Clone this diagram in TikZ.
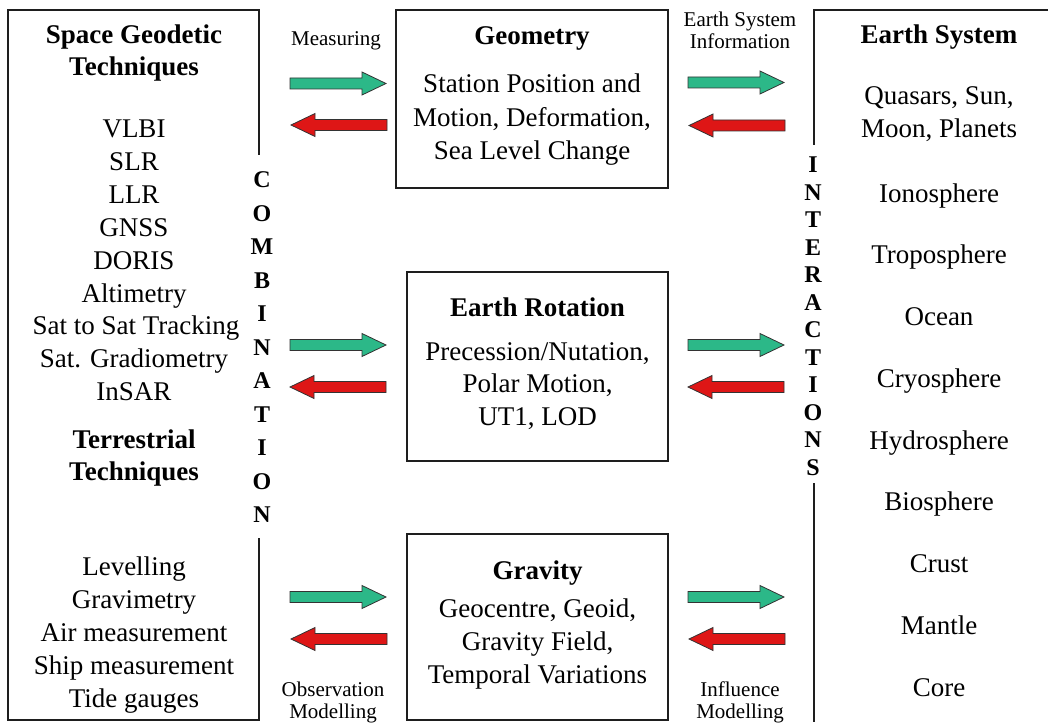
\documentclass[tikz,border=0pt]{standalone}
\usepackage{fontspec}
\setmainfont{Liberation Serif}
\definecolor{arrowgreen}{RGB}{44,184,136}
\definecolor{arrowred}{RGB}{222,22,22}
\definecolor{frameink}{RGB}{30,30,30}
\begin{document}
\begin{tikzpicture}[x=1pt,y=-1pt,
  frame/.style={line width=1.5pt, draw=frameink},
  body/.style={font=\fontsize{27}{32}\selectfont, anchor=base, inner sep=0pt},
  headtext/.style={font=\fontsize{27}{32}\selectfont\bfseries, anchor=base, inner sep=0pt},
  small/.style={font=\fontsize{21}{24}\selectfont, anchor=base, inner sep=0pt},
  vletter/.style={font=\fontsize{24}{26}\selectfont\bfseries, inner sep=0pt},
  arrowline/.style={draw=black!80, line width=0.8pt, line join=miter},
  pics/blockarrow/.style={code={
    \draw[arrowline, fill=#1] (0,-5.5) -- (72,-5.5) -- (72,-11.5) -- (96,0)
      -- (72,11.5) -- (72,5.5) -- (0,5.5) -- cycle;}}
]
\useasboundingbox (0,0) rectangle (1048,722);

% ---------- frames ----------
\coordinate (lTR) at (259,10);   \coordinate (lTL) at (8,10);
\coordinate (lBL) at (8,720);    \coordinate (lBR) at (259,720);
\coordinate (lGapTop) at (259,155); \coordinate (lGapBot) at (259,538);
\draw[frame] (lGapTop) -- (lTR) -- (lTL) -- (lBL) -- (lBR) -- (lGapBot);

\coordinate (rTR) at (1050,10);  \coordinate (rTL) at (814,10);
\coordinate (rGapTop) at (814,145); \coordinate (rGapBot) at (814,483);
\coordinate (rBL) at (814,722);
\draw[frame] (rTR) -- (rTL) -- (rGapTop);
\draw[frame] (rGapBot) -- (rBL);

\draw[frame] (396,10) rectangle (668,188);
\draw[frame] (407,272) rectangle (668,461);
\draw[frame] (407,534) rectangle (668,720);

% ---------- left column: techniques ----------
\node[headtext] (sgt1) at (134,44) {Space Geodetic};
\node[headtext] (sgt2) at (134,76) {Techniques};
\foreach \t [count=\i from 0] in {VLBI,SLR,LLR,GNSS,DORIS,Altimetry}
  \node[body] (sp\i) at (134,{138+32.8*\i}) {\t};
\begin{scope}
  \clip (10,300) rectangle (238,345);
  \node[body] (sp6) at (136,334.8) {Sat to Sat Tracking};
\end{scope}
\node[body] (sp7) at (134,367.6) {Sat. Gradiometry};
\node[body] (sp8) at (134,400.4) {InSAR};
\node[headtext] (tt1) at (134,448) {Terrestrial};
\node[headtext] (tt2) at (134,480) {Techniques};
\foreach \t [count=\i from 0] in {Levelling,Gravimetry,Air measurement,Ship measurement,Tide gauges}
  \node[body] (tr\i) at (134,{575+33*\i}) {\t};

% ---------- vertical words ----------
\foreach \ch [count=\i from 0] in {C,O,M,B,I,N,A,T,I,O,N}
  \node[vletter] (comb\i) at (262,{180+33.5*\i}) {\ch};
\foreach \ch [count=\i from 0] in {I,N,T,E,R,A,C,T,I,O,N,S}
  \node[vletter] (inter\i) at (813,{165+27.5*\i}) {\ch};

% ---------- centre boxes ----------
\node[headtext] (geoH) at (532,45) {Geometry};
\node[body] (geo1) at (532,93) {Station Position and};
\node[body] (geo2) at (532,126.5) {Motion, Deformation,};
\node[body] (geo3) at (532,160) {Sea Level Change};

\node[headtext] (rotH) at (537.5,316) {Earth Rotation};
\node[body] (rot1) at (537.5,360) {Precession/Nutation,};
\node[body] (rot2) at (537.5,392.5) {Polar Motion,};
\node[body] (rot3) at (537.5,425) {UT1, LOD};

\node[headtext] (graH) at (537.5,579) {Gravity};
\node[body] (gra1) at (537.5,617) {Geocentre, Geoid,};
\node[body] (gra2) at (537.5,650) {Gravity Field,};
\node[body] (gra3) at (537.5,683) {Temporal Variations};

% ---------- right column: earth system ----------
\node[headtext] (esH) at (939,44) {Earth System};
\node[body] (es1) at (939,105) {Quasars, Sun,};
\node[body] (es2) at (939,138) {Moon, Planets};
\foreach \t [count=\i from 0] in {Ionosphere,Troposphere,Ocean,Cryosphere,Hydrosphere,Biosphere,Crust,Mantle,Core}
  \node[body] (es\i x) at (939,{202+61.75*\i}) {\t};

% ---------- arrow labels ----------
\node[small] (lblMeas) at (336,46) {Measuring};
\node[small] (lblESI1) at (740,27) {Earth System};
\node[small] (lblESI2) at (740,49) {Information};
\node[small] (lblObs1) at (333,696) {Observation};
\node[small] (lblObs2) at (333,718) {Modelling};
\node[small] (lblInf1) at (740,696) {Influence};
\node[small] (lblInf2) at (740,718) {Modelling};

% ---------- block arrows ----------
\pic (gL1) at (290,83.5) {blockarrow=arrowgreen};
\pic (gR1) at (688,82.5) {blockarrow=arrowgreen};
\pic (gL2) at (290,345) {blockarrow=arrowgreen};
\pic (gR2) at (688,345) {blockarrow=arrowgreen};
\pic (gL3) at (290,597) {blockarrow=arrowgreen};
\pic (gR3) at (688,597) {blockarrow=arrowgreen};
\pic[xscale=-1] (rL1) at (387,125) {blockarrow=arrowred};
\pic[xscale=-1] (rR1) at (785,125.5) {blockarrow=arrowred};
\pic[xscale=-1] (rL2) at (386,387) {blockarrow=arrowred};
\pic[xscale=-1] (rR2) at (784,387) {blockarrow=arrowred};
\pic[xscale=-1] (rL3) at (387,639) {blockarrow=arrowred};
\pic[xscale=-1] (rR3) at (785,639) {blockarrow=arrowred};
\end{tikzpicture}
\end{document}
